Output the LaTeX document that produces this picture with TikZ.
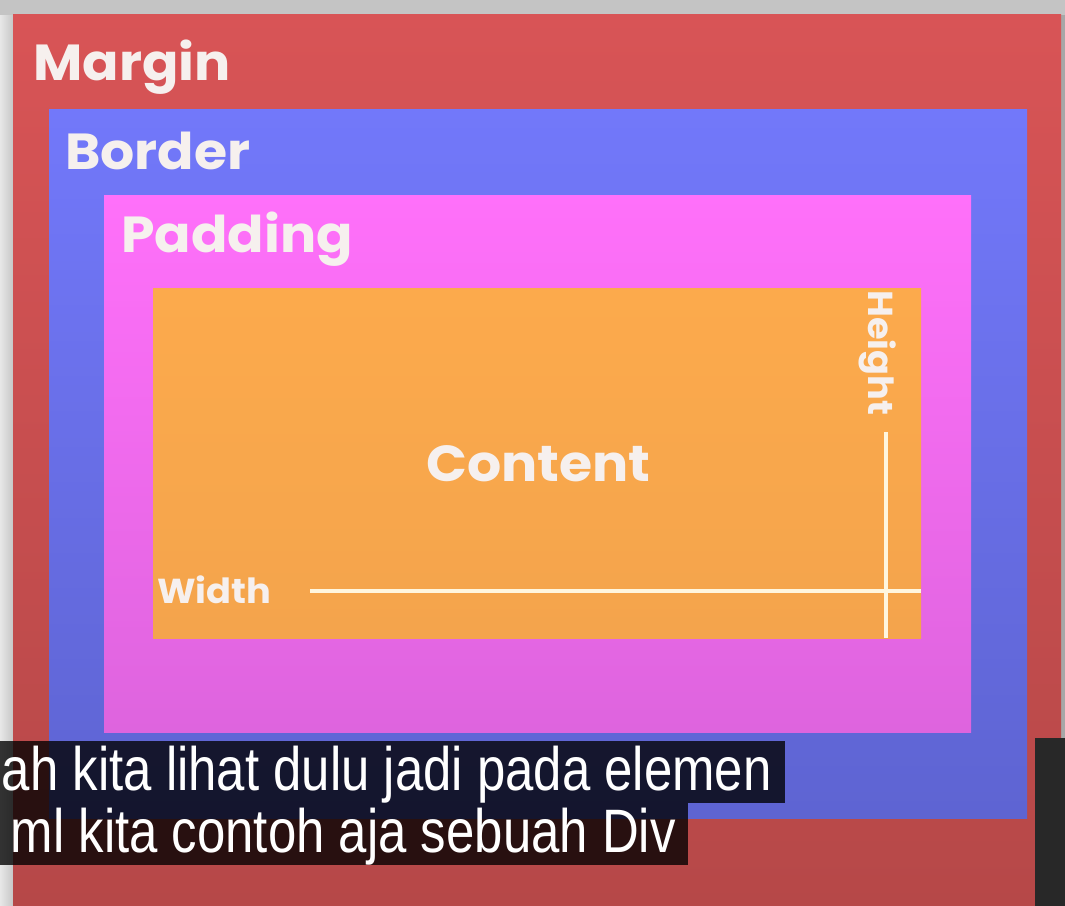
\documentclass[tikz,border=0pt]{standalone}
\usepackage{fontspec}
\usepackage{tikz}
\usetikzlibrary{positioning}
\newfontfamily\boxfont[FakeStretch=1.06]{Poppins}
\newfontfamily\capfont[FakeStretch=0.83]{Liberation Sans}
\definecolor{marginTop}{RGB}{216,84,86}
\definecolor{marginMid}{RGB}{246,98,98}
\definecolor{marginBot}{RGB}{182,72,72}
\definecolor{borderTop}{RGB}{114,120,250}
\definecolor{borderBot}{RGB}{94,100,210}
\definecolor{padTop}{RGB}{255,112,250}
\definecolor{padBot}{RGB}{222,100,222}
\definecolor{contentTop}{RGB}{252,170,76}
\definecolor{contentBot}{RGB}{244,164,76}
\definecolor{ink}{RGB}{246,240,238}
\definecolor{rule}{RGB}{255,246,222}
\definecolor{frame}{RGB}{196,196,196}
\definecolor{player}{RGB}{40,40,40}

\begin{document}
\begin{tikzpicture}[
  x=0.75pt, y=-0.75pt,
  boxlabel/.style={font=\boxfont\bfseries\fontsize{38}{40}\selectfont, text=ink,
                   inner sep=0pt, anchor=base west},
  sizelabel/.style={font=\boxfont\bfseries\fontsize{26}{28}\selectfont, text=ink,
                    inner sep=0pt, anchor=base west},
  measure/.style={draw=rule, line width=2.4pt},
  subtitle/.style={fill=black, fill opacity=0.78, draw=none},
  captext/.style={font=\capfont\fontsize{46}{48}\selectfont, text=white,
                  inner sep=0pt, anchor=base east},
]
\useasboundingbox (0,0) rectangle (1065,906);

\shade[left color=frame!40!white, right color=frame] (0,0) rectangle (14,906);
\fill[frame] (0,0) rectangle (1065,15);
\fill[frame!85!black] (1060,15) rectangle (1065,906);

\shade[top color=marginTop, middle color=marginMid, bottom color=marginBot]
  (13,15) rectangle (1061,906);
\shade[top color=borderTop, bottom color=borderBot] (49,110) rectangle (1027,818);
\shade[top color=padTop, bottom color=padBot] (104,195) rectangle (971,732);
\shade[top color=contentTop, bottom color=contentBot] (153,288) rectangle (921,638);

\node[boxlabel] (margin) at (33,81) {Margin};
\node[boxlabel] (border) at (65,170) {Border};
\node[boxlabel] (padding) at (121,252) {Padding};
\node[boxlabel] (content) at (426,481) {Content};
\node[sizelabel] (width) at (157,603) {Width};
\node[sizelabel, rotate=-90] (height) at (868,290) {Height};

\coordinate (wStart) at (310,591);
\coordinate (wEnd) at (921,591);
\coordinate (hStart) at (886,432);
\coordinate (hEnd) at (886,638);
\draw[measure] (wStart) -- (wEnd);
\draw[measure] (hStart) -- (hEnd);

\fill[subtitle] (0,741) rectangle (785,803);
\fill[subtitle] (0,803) rectangle (688,865);
\fill[player] (1035,738) rectangle (1065,906);

\node[captext] (line1) at (772,790) {ah kita lihat dulu jadi pada elemen};
\node[captext] (line2) at (676,852) {ml kita contoh aja sebuah Div};

\end{tikzpicture}
\end{document}
